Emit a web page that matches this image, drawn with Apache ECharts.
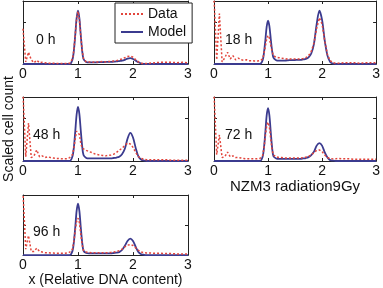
<!DOCTYPE html>
<html>
<head>
<meta charset="utf-8">
<script src="https://cdn.jsdelivr.net/npm/echarts@6/dist/echarts.min.js"></script>
<style>
  html, body { margin: 0; padding: 0; background: #fff; }
  #main { width: 383px; height: 288px; }
</style>
</head>
<body>
<div id="main"></div>
<script>
// x grid (relative DNA content), finer around the G1 peak
var xs = [0,0.05,0.1,0.15,0.2,0.25,0.3,0.35,0.4,0.45,0.5,0.55,0.6,0.65,0.7,0.75,0.8,0.85,0.9,
  0.925,0.95,0.975,1,1.025,1.05,1.075,1.1,
  1.15,1.2,1.25,1.3,1.35,1.4,1.45,1.5,1.55,1.6,1.65,1.7,1.75,1.8,1.85,1.9,1.95,2,2.05,2.1,2.15,2.2,2.25,2.3,
  2.4,2.5,2.6,2.7,2.8,2.9,3];
var xTicks = [0, 1, 2, 3];
var panelLabels = ['0 h', '18 h', '48 h', '72 h', '96 h'];

var data0h = [0.84,0.05,0.28,0.1,0.03,0.09,0.03,0.04,0.03,0.02,0.02,0.02,0.01,0.01,0.01,0.01,0.01,0.02,0.12,
  0.33,0.7,1.08,1.25,1.07,0.68,0.33,0.13,
  0.05,0.05,0.05,0.04,0.05,0.05,0.06,0.05,0.06,0.06,0.07,0.08,0.1,0.12,0.15,0.18,0.19,0.16,0.1,0.05,0.02,0.01,0.01,0.02,
  0.03,0.04,0.04,0.04,0.03,0.04,0.03];
var model0h = [0,0,0,0,0,0,0,0,0,0,0,0,0,0,0,0,0,0,0.11,
  0.32,0.69,1.09,1.27,1.09,0.69,0.33,0.12,
  0.05,0.04,0.04,0.04,0.04,0.045,0.045,0.05,0.05,0.05,0.055,0.06,0.07,0.08,0.1,0.13,0.14,0.12,0.08,0.04,0.01,0,0,0,
  0,0,0,0,0,0,0];

var data18h = [1.6,0.1,1.2,0.05,0.15,0.28,0.12,0.2,0.1,0.14,0.1,0.09,0.1,0.08,0.08,0.07,0.07,0.08,0.12,
  0.25,0.42,0.6,0.68,0.62,0.45,0.3,0.2,
  0.16,0.15,0.14,0.13,0.12,0.12,0.12,0.12,0.12,0.12,0.13,0.15,0.2,0.3,0.5,0.85,1.1,0.95,0.55,0.22,0.08,0.03,0.02,0.02,
  0.03,0.03,0.03,0.02,0.03,0.03,0.03];
var model18h = [0,0,0,0,0,0,0,0,0,0,0,0,0,0,0,0,0,0,0.09,
  0.27,0.56,0.89,1.03,0.9,0.6,0.32,0.15,
  0.09,0.08,0.08,0.08,0.085,0.09,0.09,0.095,0.1,0.1,0.11,0.12,0.16,0.25,0.48,0.95,1.27,1.05,0.55,0.2,0.05,0.01,0,0,
  0,0,0,0,0,0,0];

var data48h = [1.6,0.1,0.89,0.08,0.12,0.26,0.1,0.12,0.08,0.1,0.08,0.07,0.06,0.06,0.05,0.05,0.05,0.08,0.15,
  0.3,0.52,0.7,0.73,0.62,0.42,0.3,0.26,
  0.25,0.22,0.2,0.17,0.15,0.14,0.13,0.12,0.13,0.14,0.16,0.2,0.25,0.3,0.36,0.42,0.4,0.32,0.2,0.1,0.06,0.04,0.03,0.03,
  0.03,0.03,0.03,0.02,0.02,0.02,0.02];
var model48h = [0,0,0,0,0,0,0,0,0,0,0,0,0,0,0,0,0,0,0.11,
  0.32,0.69,1.09,1.27,1.1,0.72,0.36,0.14,
  0.07,0.06,0.06,0.06,0.06,0.06,0.06,0.06,0.06,0.06,0.07,0.08,0.1,0.16,0.28,0.52,0.66,0.55,0.3,0.1,0.03,0.01,0,0,
  0,0,0,0,0,0,0];

var data72h = [1.6,0.15,0.61,0.08,0.1,0.21,0.1,0.12,0.08,0.08,0.07,0.06,0.05,0.05,0.05,0.05,0.05,0.06,0.13,
  0.3,0.58,0.83,0.91,0.8,0.52,0.26,0.14,
  0.1,0.08,0.08,0.07,0.07,0.07,0.07,0.07,0.07,0.07,0.08,0.09,0.11,0.14,0.2,0.25,0.26,0.22,0.14,0.08,0.06,0.05,0.05,0.06,
  0.05,0.05,0.04,0.04,0.04,0.04,0.04];
var model72h = [0,0,0,0,0,0,0,0,0,0,0,0,0,0,0,0,0,0,0.1,
  0.31,0.67,1.07,1.24,1.07,0.68,0.32,0.11,
  0.06,0.05,0.05,0.05,0.05,0.05,0.05,0.05,0.05,0.05,0.06,0.07,0.09,0.14,0.22,0.36,0.42,0.36,0.2,0.08,0.02,0.01,0,0,
  0,0,0,0,0,0,0];

var data96h = [2.1,0.2,0.65,0.12,0.12,0.23,0.12,0.1,0.08,0.08,0.07,0.07,0.06,0.06,0.06,0.06,0.07,0.1,0.2,
  0.45,0.82,1.12,1.23,1.08,0.7,0.35,0.16,
  0.1,0.09,0.08,0.08,0.08,0.08,0.08,0.08,0.08,0.09,0.1,0.12,0.15,0.2,0.27,0.33,0.35,0.32,0.24,0.16,0.1,0.08,0.07,0.07,
  0.06,0.06,0.05,0.05,0.04,0.04,0.04];
var model96h = [0,0,0,0,0,0,0,0,0,0,0,0,0,0,0,0,0,0,0.14,
  0.43,0.92,1.47,1.71,1.47,0.93,0.44,0.15,
  0.07,0.06,0.06,0.06,0.06,0.06,0.06,0.06,0.06,0.06,0.07,0.08,0.1,0.17,0.3,0.47,0.55,0.47,0.27,0.1,0.03,0.01,0,0,
  0,0,0,0,0,0,0];

var dataSets = [data0h, data18h, data48h, data72h, data96h];
var modelSets = [model0h, model18h, model48h, model72h, model96h];
var yMaxes = [1.5, 1.5, 1.5, 1.5, 2];

var font = 'Liberation Sans, Arial, sans-serif';
var ink = '#222';
var boxes = [
  { left: 23, top: 1, width: 165, height: 63 },
  { left: 214, top: 1, width: 166, height: 63 },
  { left: 23, top: 97, width: 165, height: 64 },
  { left: 214, top: 97, width: 166, height: 64 },
  { left: 23, top: 195, width: 165, height: 62 }
];
var labelPos = [[36, 33], [225, 33], [33, 128], [225, 128], [33, 225]];

function pairs(ys) {
  return xs.map(function (x, i) { return [x, ys[i]]; });
}

var grids = [], xAxes = [], yAxes = [], series = [], graphics = [];
boxes.forEach(function (b, i) {
  grids.push({ left: b.left, top: b.top, width: b.width, height: b.height, show: false });
  var axisLine = { show: true, onZero: false, lineStyle: { color: ink, width: 1 } };
  var tick = { show: true, inside: true, length: 3, lineStyle: { color: ink } };
  var xa = {
    type: 'value', gridIndex: i, min: 0, max: 3, interval: 1, position: 'bottom',
    axisLine: axisLine, axisTick: tick, splitLine: { show: false },
    axisLabel: { fontSize: 14, color: '#111', fontFamily: font, margin: 3,
      formatter: function (v) { return xTicks.indexOf(v) >= 0 ? String(v) : ''; } }
  };
  if (i === 3) { xa.name = 'NZM3 radiation9Gy'; }
  if (i === 4) { xa.name = 'x (Relative DNA content)'; }
  xa.nameLocation = 'middle';
  xa.nameGap = i === 3 ? 12 : 15;
  xa.nameTextStyle = { fontSize: i === 3 ? 15 : 14, color: '#111', fontFamily: font };
  xAxes.push(xa);
  xAxes.push({
    type: 'value', gridIndex: i, min: 0, max: 3, interval: 1, position: 'top',
    axisLine: axisLine, axisTick: tick, axisLabel: { show: false }, splitLine: { show: false }
  });
  yAxes.push({
    type: 'value', gridIndex: i, min: 0, max: yMaxes[i], interval: 1, position: 'left',
    axisLine: axisLine, axisTick: tick, axisLabel: { show: false }, splitLine: { show: false }
  });
  yAxes.push({
    type: 'value', gridIndex: i, min: 0, max: yMaxes[i], interval: 1, position: 'right',
    axisLine: axisLine, axisTick: tick, axisLabel: { show: false }, splitLine: { show: false }
  });
  series.push({
    name: 'Data', type: 'line', xAxisIndex: 2 * i, yAxisIndex: 2 * i,
    data: pairs(dataSets[i]), symbol: 'none', clip: true, z: 3,
    lineStyle: { color: '#e2453c', width: 1.5, type: [2, 2] },
    itemStyle: { color: '#e2453c' }
  });
  series.push({
    name: 'Model', type: 'line', xAxisIndex: 2 * i, yAxisIndex: 2 * i,
    data: pairs(modelSets[i]), symbol: 'none', clip: true, smooth: 0.3, z: 2,
    lineStyle: { color: '#3b3b8f', width: 1.8 },
    itemStyle: { color: '#3b3b8f' }
  });
  graphics.push({
    type: 'text', left: labelPos[i][0], top: labelPos[i][1],
    style: { text: panelLabels[i], fontSize: 14, fill: '#111', fontFamily: font }
  });
});

graphics.push({
  type: 'text', x: 9, y: 129, rotation: Math.PI / 2,
  style: { text: 'Scaled cell count', fontSize: 14, fill: '#111', fontFamily: font,
    align: 'center', verticalAlign: 'middle' }
});

var chart = echarts.init(document.getElementById('main'), null, { renderer: 'canvas' });
chart.setOption({
  animation: false,
  backgroundColor: '#fff',
  grid: grids,
  xAxis: xAxes,
  yAxis: yAxes,
  legend: {
    data: ['Data', 'Model'], orient: 'vertical', left: 115, top: 3,
    backgroundColor: '#fff', borderColor: ink, borderWidth: 1,
    padding: [4, 6, 4, 5], itemGap: 4, itemWidth: 22, itemHeight: 12,
    itemStyle: { opacity: 0 },
    textStyle: { fontSize: 14, color: '#111', fontFamily: font }
  },
  series: series,
  graphic: graphics
});
</script>
</body>
</html>
